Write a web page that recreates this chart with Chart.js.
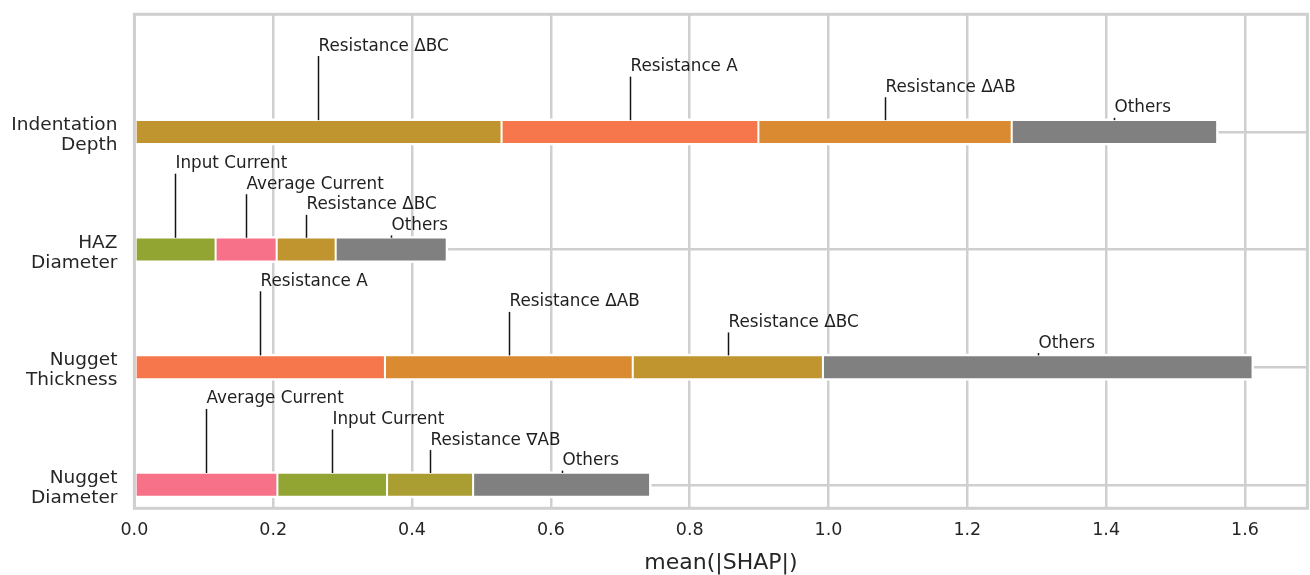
<!DOCTYPE html>
<html>
<head>
<meta charset="utf-8">
<script src="https://cdn.jsdelivr.net/npm/chart.js@4/dist/chart.umd.min.js"></script>
<style>
  html, body { margin: 0; padding: 0; background: #ffffff; }
  #wrap { width: 1310px; height: 575px; }
</style>
</head>
<body>
<div id="wrap"><canvas id="shap" width="1310" height="575"></canvas></div>
<script>
// Output targets, listed bottom to top (y = 0 .. 3)
const targets = ['Nugget Diameter', 'Nugget Thickness', 'HAZ Diameter', 'Indentation Depth'];
const targetTickLabels = [['Nugget', 'Diameter'], ['Nugget', 'Thickness'], ['HAZ', 'Diameter'], ['Indentation', 'Depth']];

// Features per target, in stacking order, with their mean(|SHAP|)
const nuggetDiameterFeatures = ['Average Current', 'Input Current', 'Resistance \u2207AB', 'Others'];
const nuggetDiameterShap     = [0.206, 0.158, 0.124, 0.255];

const nuggetThicknessFeatures = ['Resistance A', 'Resistance \u0394AB', 'Resistance \u0394BC', 'Others'];
const nuggetThicknessShap     = [0.361, 0.357, 0.274, 0.619];

const hazDiameterFeatures = ['Input Current', 'Average Current', 'Resistance \u0394BC', 'Others'];
const hazDiameterShap     = [0.117, 0.088, 0.085, 0.160];

const indentationDepthFeatures = ['Resistance \u0394BC', 'Resistance A', 'Resistance \u0394AB', 'Others'];
const indentationDepthShap     = [0.529, 0.370, 0.365, 0.296];

const xTickValues = [0.0, 0.2, 0.4, 0.6, 0.8, 1.0, 1.2, 1.4, 1.6];

const featureColors = {
  'Average Current': '#f77189',
  'Input Current': '#92a432',
  'Resistance \u2207AB': '#aa9d31',
  'Resistance \u0394BC': '#c09530',
  'Resistance A': '#f7774c',
  'Resistance \u0394AB': '#da8a31',
  'Others': '#808080'
};

const featuresByTarget = [nuggetDiameterFeatures, nuggetThicknessFeatures, hazDiameterFeatures, indentationDepthFeatures];
const shapByTarget = [nuggetDiameterShap, nuggetThicknessShap, hazDiameterShap, indentationDepthShap];

// Floating [start, end] ranges so each rank of segment becomes one dataset
const segmentCount = 4;
const datasets = [];
for (let s = 0; s < segmentCount; s++) {
  const data = [], colors = [];
  shapByTarget.forEach((vals, t) => {
    const start = vals.slice(0, s).reduce((a, b) => a + b, 0);
    data.push({ x: [start, start + vals[s]], y: t });
    colors.push(featureColors[featuresByTarget[t][s]]);
  });
  datasets.push({
    label: 'segment ' + (s + 1),
    data,
    backgroundColor: colors,
    borderColor: '#ffffff',
    borderWidth: 1.35,
    borderSkipped: false,
    barThickness: 24,
    grouped: false
  });
}

const FONT = '"DejaVu Sans", "Liberation Sans", sans-serif';
const GRID = '#cfcfcf';
const TEXT = '#262626';

// White halo round each segment, the frame, and the leader-line labels
const segmentDecor = {
  id: 'segmentDecor',
  beforeDatasetsDraw(chart) {
    const ctx = chart.ctx, h = 1.35;
    ctx.save();
    ctx.fillStyle = '#ffffff';
    chart.data.datasets.forEach((ds, di) => {
      chart.getDatasetMeta(di).data.forEach(bar => {
        const p = bar.getProps(['x', 'y', 'base', 'height'], true);
        const l = Math.min(p.x, p.base), r = Math.max(p.x, p.base);
        ctx.fillRect(l - h, p.y - p.height / 2 - h, r - l + 2 * h, p.height + 2 * h);
      });
    });
    ctx.restore();
  },
  afterDatasetsDraw(chart) {
    const ctx = chart.ctx, a = chart.chartArea;
    const xs = chart.scales.x, ys = chart.scales.y;
    ctx.save();
    ctx.strokeStyle = GRID;
    ctx.lineWidth = 3;
    ctx.strokeRect(a.left, a.top, a.right - a.left, a.bottom - a.top);

    ctx.font = '16.8px ' + FONT;
    ctx.textAlign = 'left';
    ctx.textBaseline = 'alphabetic';
    shapByTarget.forEach((vals, t) => {
      let start = 0;
      vals.forEach((v, s) => {
        const mid = start + v / 2;
        start += v;
        const px = Math.round(xs.getPixelForValue(mid)) + 0.5;
        const top = ys.getPixelForValue(t + 0.645 - 0.175 * s);
        const bottom = ys.getPixelForValue(t + 0.1);
        ctx.strokeStyle = '#141414';
        ctx.lineWidth = 1.5;
        ctx.beginPath();
        ctx.moveTo(px, bottom);
        ctx.lineTo(px, top);
        ctx.stroke();
        ctx.fillStyle = '#1f1f1f';
        ctx.fillText(featuresByTarget[t][s], px, top - 5.5);
      });
    });
    ctx.restore();
  }
};

new Chart(document.getElementById('shap'), {
  type: 'bar',
  data: { datasets },
  options: {
    indexAxis: 'y',
    responsive: false,
    animation: false,
    devicePixelRatio: 1,
    layout: { padding: { top: 14.3, right: 2.6, left: 0, bottom: 0 } },
    plugins: { legend: { display: false }, tooltip: { enabled: false } },
    scales: {
      x: {
        type: 'linear',
        position: 'bottom',
        min: 0,
        max: 1.69,
        afterBuildTicks: scale => { scale.ticks = xTickValues.map(v => ({ value: v })); },
        afterFit: scale => {
          scale.height = 66.7;
          scale.paddingLeft = 0;
          scale.paddingRight = 0;
        },
        grid: { color: GRID, lineWidth: 2.5, drawTicks: false },
        border: { display: false },
        ticks: {
          padding: 12,
          color: TEXT,
          font: { family: FONT, size: 17.5 },
          maxRotation: 0,
          autoSkip: false,
          callback: v => Number(v).toFixed(1)
        },
        title: {
          display: true,
          text: 'mean(|SHAP|)',
          color: TEXT,
          font: { family: FONT, size: 22, lineHeight: 1.0 },
          padding: { top: 0, bottom: 1 }
        }
      },
      y: {
        type: 'linear',
        offset: false,
        min: -0.2,
        max: 4.0,
        afterBuildTicks: scale => { scale.ticks = targets.map((_, i) => ({ value: i })); },
        afterFit: scale => {
          scale.width = 134.4;
          scale.paddingTop = 0;
          scale.paddingBottom = 0;
        },
        grid: { color: GRID, lineWidth: 2.5, drawTicks: false, offset: false },
        border: { display: false },
        ticks: {
          padding: 17,
          labelOffset: 3.5,
          color: TEXT,
          font: { family: FONT, size: 18.5, lineHeight: 1.08 },
          autoSkip: false,
          callback: v => targetTickLabels[v]
        }
      }
    }
  },
  plugins: [segmentDecor]
});
</script>
</body>
</html>
